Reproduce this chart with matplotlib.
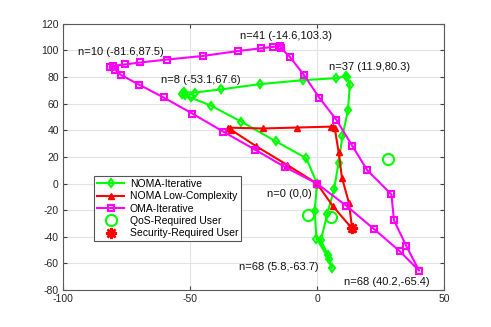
import matplotlib
matplotlib.use("Agg")
import matplotlib.pyplot as plt

plt.rcParams['font.family'] = ['Liberation Sans', 'DejaVu Sans']
plt.rcParams['axes.unicode_minus'] = False

# NOMA-Iterative trajectory (green)
noma_x = [0, -4.2, -16.3, -29.8, -41.6, -49.8, -52.0, -53.1, -52.5, -48.1, -37.6, -22.6, -5.5, 7.6,
          11.6, 11.9, 12.9, 12.2, 10.0, 8.5, 6.7, 4.1, 1.5, 4.3, 5.8, 4.8, -0.2, -0.9, 0]
noma_y = [0, 19.0, 31.8, 46.5, 58.4, 64.7, 66.5, 67.6, 68.6, 68.4, 70.8, 74.7, 77.7, 79.2,
          80.8, 80.3, 74.0, 55.1, 35.6, 15.8, -4.4, -22.5, -42.6, -53.8, -63.7, -57.0, -41.4, -20.5, 0]

# NOMA Low-Complexity trajectory (red)
lc_x = [0, -12.0, -23.9, -34.0, -35.0, -34.2, -21.3, -7.9, 5.5, 6.3, 7.0, 8.5, 9.8, 12.6, 13.8, 6.3, 0]
lc_y = [0, 14.3, 28.0, 40.6, 41.4, 42.0, 41.4, 42.1, 42.8, 42.6, 41.5, 23.8, 4.5, -14.6, -33.8, -17.1, 0]

# OMA-Iterative trajectory (magenta)
oma_x = [0, -12.7, -24.5, -37.0, -49.1, -60.4, -70.1, -77.0, -79.5, -81.6, -80.5, -75.7, -69.5,
         -59.0, -44.9, -31.1, -21.9, -17.3, -14.6, -14.0, -10.7, -5.2, 0.9, 7.6, 13.9, 19.8,
         29.3, 30.3, 35.2, 40.2, 32.6, 22.4, 11.6, 0]
oma_y = [0, 12.5, 25.6, 39.1, 52.6, 64.7, 74.4, 81.4, 85.5, 87.5, 88.5, 89.5, 91.0,
         93.2, 95.9, 99.6, 101.7, 102.7, 103.3, 101.5, 95.2, 81.8, 64.5, 48.0, 28.3, 10.0,
         -8.2, -27.6, -47.1, -65.4, -50.9, -34.1, -16.8, 0]

# Users
qos_x = [-3.5, 5.7, 28.0]
qos_y = [-23.3, -25.1, 18.8]
sec_x = [13.8]
sec_y = [-33.5]

# Annotations
ann_text = ["n=10 (-81.6,87.5)", "n=8 (-53.1,67.6)", "n=41 (-14.6,103.3)", "n=37 (11.9,80.3)",
            "n=0 (0,0)", "n=68 (5.8,-63.7)", "n=68 (40.2,-65.4)"]
ann_x = [-94.1, -61.3, -30.2, 4.6, -19.7, -30.6, 10.6]
ann_y = [98.9, 78.2, 110.8, 87.7, -7.5, -62.7, -74.0]

xticks = [-100, -50, 0, 50]
yticks = [-80, -60, -40, -20, 0, 20, 40, 60, 80, 100, 120]

fig = plt.figure(figsize=(4.91, 3.27), dpi=100)
ax = fig.add_axes([0.1283, 0.113, 0.776, 0.814])

lw = 1.5
ax.plot(noma_x, noma_y, color=(0, 1, 0), lw=lw, marker='d', ms=4.5, mfc='none', mew=1.5,
        label='NOMA-Iterative')
ax.plot(lc_x, lc_y, color=(1, 0, 0), lw=lw, marker='^', ms=5, mfc=(1, 0, 0), mew=1.0,
        label='NOMA Low-Complexity')
ax.plot(oma_x, oma_y, color=(1, 0, 1), lw=lw, marker='s', ms=4, mfc='none', mew=1.5,
        label='OMA-Iterative')
ax.plot(qos_x, qos_y, ls='none', marker='o', ms=8, mfc='none', mec=(0, 1, 0), mew=1.5,
        label='QoS-Required User')
ax.plot(sec_x, sec_y, ls='none', marker=(8, 2, 0), ms=8, mec=(1, 0, 0), mew=1.8,
        label='Security-Required User')

for t, x, y in zip(ann_text, ann_x, ann_y):
    ax.text(x, y, t, fontsize=8, ha='left', va='center', color='#111111')

ax.set_xlim(-100, 50)
ax.set_ylim(-80, 120)
ax.set_xticks(xticks)
ax.set_yticks(yticks)
ax.grid(True, color='#e3e3e3', lw=0.8)
ax.set_axisbelow(True)
ax.tick_params(direction='in', top=True, right=True, labelsize=7.5, length=3,
               color='#404040', labelcolor='#262626', pad=3)
for s in ax.spines.values():
    s.set_color('#5a5a5a')
    s.set_linewidth(0.8)

leg = ax.legend(loc='lower left', bbox_to_anchor=(0.082, 0.183), fontsize=7.5,
                frameon=True, fancybox=False, framealpha=1, edgecolor='#555555',
                handlelength=2.6, labelspacing=0.22, borderpad=0.3, handletextpad=0.5,
                borderaxespad=0)
leg.get_frame().set_linewidth(0.8)

fig.savefig('out.png', dpi=100)
